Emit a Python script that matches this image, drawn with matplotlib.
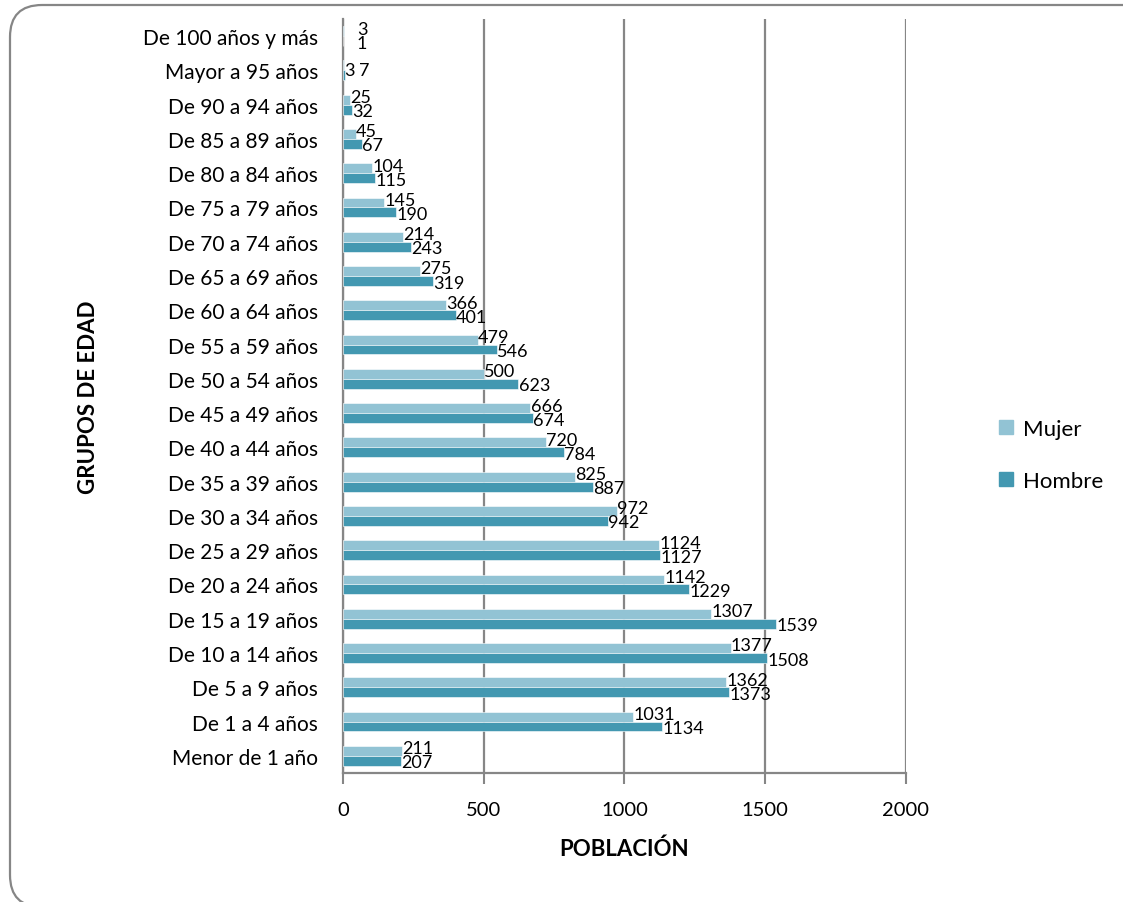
import matplotlib
matplotlib.use("Agg")
import matplotlib.pyplot as plt
from matplotlib.patches import FancyBboxPatch, Patch
import numpy as np

#====== DATA ==========================================
grupos = [
    "Menor de 1 año", "De 1 a 4 años", "De 5 a 9 años", "De 10 a 14 años",
    "De 15 a 19 años", "De 20 a 24 años", "De 25 a 29 años", "De 30 a 34 años",
    "De 35 a 39 años", "De 40 a 44 años", "De 45 a 49 años", "De 50 a 54 años",
    "De 55 a 59 años", "De 60 a 64 años", "De 65 a 69 años", "De 70 a 74 años",
    "De 75 a 79 años", "De 80 a 84 años", "De 85 a 89 años", "De 90 a 94 años",
    "Mayor a 95 años", "De 100 años y más",
]
mujer = [211, 1031, 1362, 1377, 1307, 1142, 1124, 972, 825, 720, 666, 500,
         479, 366, 275, 214, 145, 104, 45, 25, 3, 3]
hombre = [207, 1134, 1373, 1508, 1539, 1229, 1127, 942, 887, 784, 674, 623,
          546, 401, 319, 243, 190, 115, 67, 32, 7, 1]
x_ticks = [0, 500, 1000, 1500, 2000]

COLOR_MUJER = "#92C3D4"
COLOR_HOMBRE = "#4398B1"
GRID = "#868686"
FONT = "Lato"
W, H = 1123, 903

plt.rcParams["font.family"] = [FONT, "DejaVu Sans"]

fig = plt.figure(figsize=(W / 100, H / 100), dpi=100)
ax = fig.add_axes([0.3054, 0.1429, 0.5013, 0.835])

y = np.arange(len(grupos))
h = 0.29
ax.barh(y + h / 2, mujer, height=h, color=COLOR_MUJER, edgecolor="white",
        linewidth=0.4, zorder=3, label="Mujer")
ax.barh(y - h / 2, hombre, height=h, color=COLOR_HOMBRE, edgecolor="white",
        linewidth=0.4, zorder=3, label="Hombre")

# value labels, excel style just past the end of each bar
for i in range(len(grupos)):
    xm, ym, xh, yh = mujer[i], y[i] + 0.22, hombre[i], y[i] - 0.19
    if grupos[i] == "Mayor a 95 años":
        # excel squeezed both labels onto one line here
        xm, ym, xh, yh = 3, y[i], 55, y[i]
    elif grupos[i] == "De 100 años y más":
        xm, xh = 48, 48
    ax.text(xm + 1, ym, str(mujer[i]), va="center", ha="left", fontsize=13, zorder=4)
    ax.text(xh + 1, yh, str(hombre[i]), va="center", ha="left", fontsize=13, zorder=4)

ax.set_xlim(0, 2000)
ax.set_ylim(-0.5, len(grupos) - 0.5)
ax.set_xticks(x_ticks)
ax.set_xticklabels([str(t) for t in x_ticks], fontsize=14.5)
ax.set_yticks(y)
ax.set_yticklabels(grupos, fontsize=15)
ax.tick_params(axis="y", length=0, pad=18)
ax.tick_params(axis="x", length=8, width=1.5, color=GRID, pad=12)
ax.xaxis.grid(True, color=GRID, linewidth=1.6, zorder=0)
for s in ["top", "right"]:
    ax.spines[s].set_visible(False)
for s in ["left", "bottom"]:
    ax.spines[s].set_color(GRID)
    ax.spines[s].set_linewidth(1.6)

ax.set_xlabel("POBLACIÓN", fontsize=16, fontweight="bold", labelpad=14)
fig.text(0.079, 0.56, "GRUPOS DE EDAD", rotation=90, fontsize=16,
         fontweight="bold", ha="center", va="center")

handles = [Patch(color=COLOR_MUJER, label="Mujer"),
           Patch(color=COLOR_HOMBRE, label="Hombre")]
fig.legend(handles=handles, loc="center left", bbox_to_anchor=(0.872, 0.495),
           frameon=False, fontsize=16, handlelength=0.6, handleheight=0.6,
           handletextpad=0.45, labelspacing=1.45)

# rounded chart border, runs off the right and bottom edge like the original
border = FancyBboxPatch((10 / W, -5 / H), 1145 / W, 902 / H,
                        boxstyle="round,pad=0,rounding_size=%f" % (32 / W),
                        mutation_aspect=W / H,
                        transform=fig.transFigure, fill=False,
                        edgecolor=GRID, linewidth=1.6, clip_on=False)
fig.patches.append(border)

fig.savefig("out.png", dpi=100)
